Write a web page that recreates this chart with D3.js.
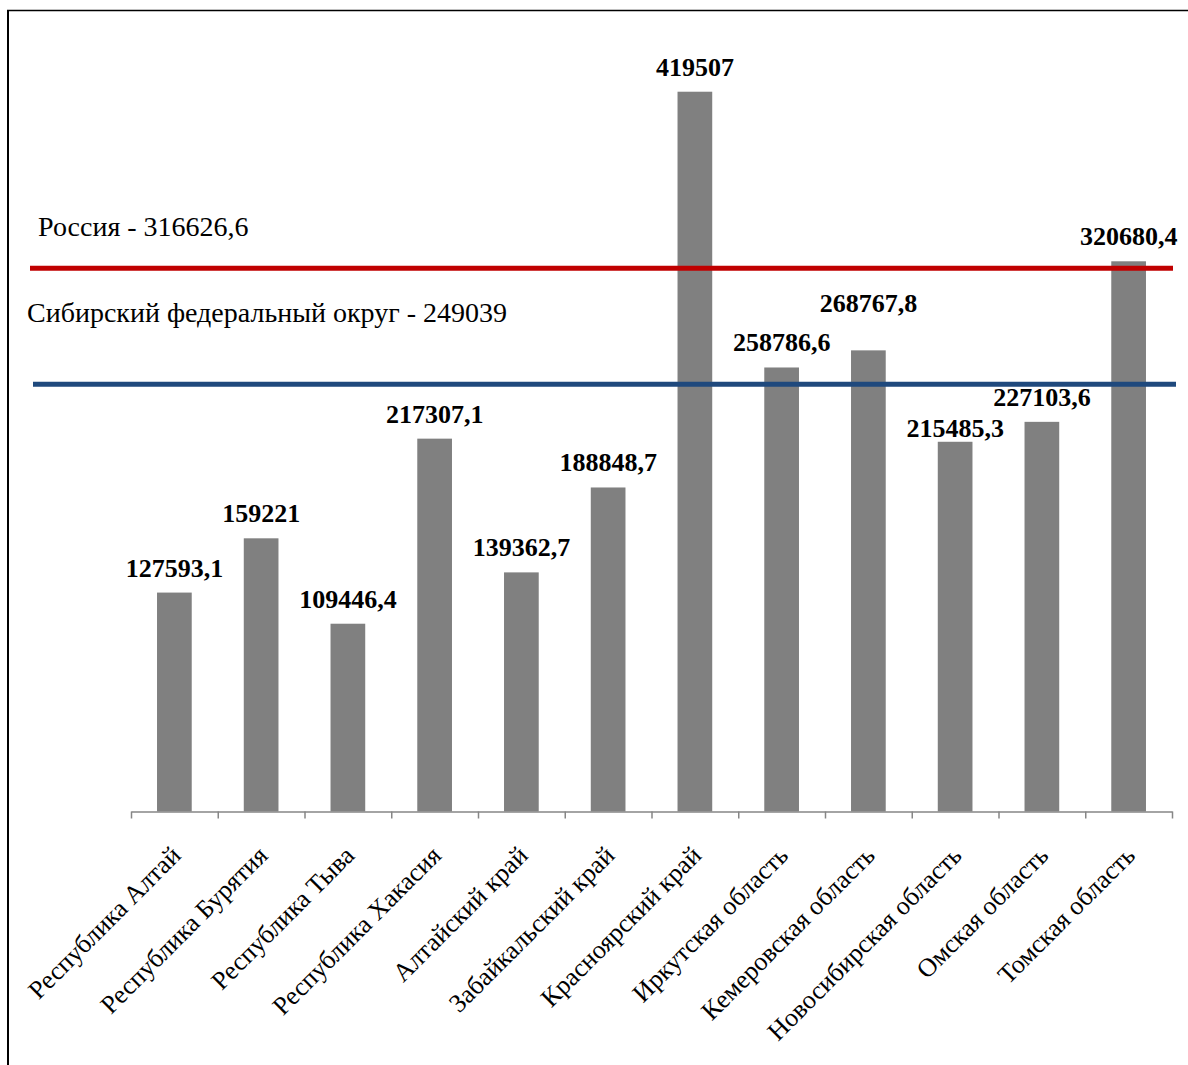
<!DOCTYPE html>
<html>
<head>
<meta charset="utf-8">
<script src="https://cdn.jsdelivr.net/npm/d3@7"></script>
<style>
  html, body { margin: 0; padding: 0; background: #fff; }
  svg { display: block; }
  svg text { font-family: "Liberation Serif", "DejaVu Serif", serif; }
</style>
</head>
<body>
<svg id="chart" width="1188" height="1065"></svg>
<script>
// ---- data ----
const categories = [
  "Республика Алтай", "Республика Бурятия", "Республика Тыва", "Республика Хакасия",
  "Алтайский край", "Забайкальский край", "Красноярский край", "Иркутская область",
  "Кемеровская область", "Новосибирская область", "Омская область", "Томская область"
];
const values = [127593.1, 159221, 109446.4, 217307.1, 139362.7, 188848.7, 419507,
                258786.6, 268767.8, 215485.3, 227103.6, 320680.4];
const valueLabels = ["127593,1", "159221", "109446,4", "217307,1", "139362,7", "188848,7",
                     "419507", "258786,6", "268767,8", "215485,3", "227103,6", "320680,4"];
const refNames = ["Россия - 316626,6", "Сибирский федеральный округ - 249039"];
const refValues = [316626.6, 249039];

// ---- layout / style (kept separate from data) ----
const refColors = ["#c00000", "#1f497d"];
const refLineX = [[30, 1173], [33, 1176]];
const refTextPos = [[38, 236], [27, 322]];
const labelNudge = [0, 0, 0, 0, 0, 0, 0, 0, -22, 11, 0, 0];

const svg = d3.select("#chart");

// frame
svg.append("line").attr("x1", 8).attr("x2", 8).attr("y1", 10).attr("y2", 1065)
  .attr("stroke", "#000").attr("stroke-width", 2);
svg.append("line").attr("x1", 7).attr("x2", 1188).attr("y1", 10.5).attr("y2", 10.5)
  .attr("stroke", "#000").attr("stroke-width", 1.5);

const x = d3.scaleBand().domain(categories).range([131, 1172])
  .paddingInner(0.6).paddingOuter(0.3);
const y = d3.scaleLinear().domain([0, 450000]).range([811.5, 39.4]);

// bars
svg.append("g").selectAll("rect").data(values).join("rect")
  .attr("x", (d, i) => x(categories[i]))
  .attr("width", x.bandwidth())
  .attr("y", d => y(d))
  .attr("height", d => y(0) - y(d))
  .attr("fill", "#808080");

// axis with ticks at category boundaries
const xb = d3.scaleLinear().domain([0, categories.length]).range([131, 1172]);
const axis = svg.append("g").attr("transform", `translate(0,${y(0)})`)
  .call(d3.axisBottom(xb).tickValues(d3.range(categories.length + 1)).tickSize(7).tickFormat("").tickSizeOuter(0));
axis.selectAll("path, line").attr("stroke", "#868686").attr("stroke-width", 1.5);

// category labels
svg.append("g").selectAll("text").data(categories).join("text")
  .attr("transform", d => `translate(${x(d) + x.bandwidth() / 2 + 8},857) rotate(-45)`)
  .attr("text-anchor", "end")
  .style("font-size", "26px")
  .attr("fill", "#000")
  .text(d => d);

// reference lines
svg.append("g").selectAll("line").data(refValues).join("line")
  .attr("x1", (d, i) => refLineX[i][0])
  .attr("x2", (d, i) => refLineX[i][1])
  .attr("y1", d => y(d)).attr("y2", d => y(d))
  .attr("stroke", (d, i) => refColors[i])
  .attr("stroke-width", 5);

svg.append("g").selectAll("text").data(refNames).join("text")
  .attr("x", (d, i) => refTextPos[i][0])
  .attr("y", (d, i) => refTextPos[i][1])
  .style("font-size", "28px")
  .attr("fill", "#000")
  .text(d => d);

// value labels
svg.append("g").selectAll("text").data(values).join("text")
  .attr("x", (d, i) => x(categories[i]) + x.bandwidth() / 2)
  .attr("y", (d, i) => y(d) - 16 + labelNudge[i])
  .attr("text-anchor", "middle")
  .style("font-weight", "bold")
  .style("font-size", "26px")
  .attr("fill", "#000")
  .text((d, i) => valueLabels[i]);
</script>
</body>
</html>
